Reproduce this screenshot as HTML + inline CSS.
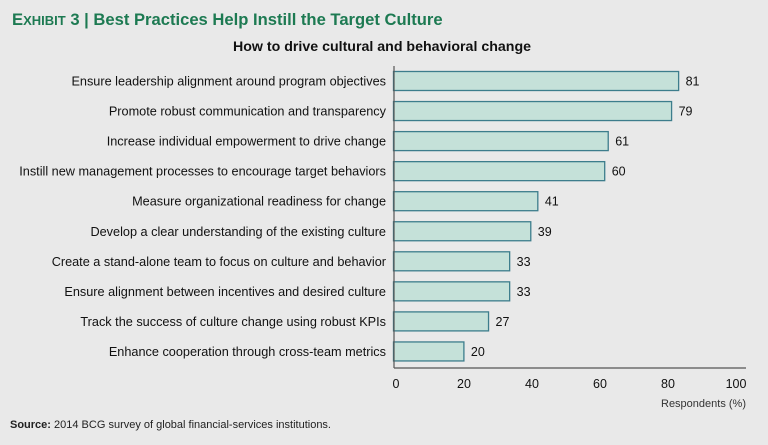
<!DOCTYPE html>
<html><head><meta charset="utf-8"><style>
body{margin:0;background:#e9e9e9;width:768px;height:440px;overflow:hidden;font-family:"Liberation Sans",sans-serif}
</style></head><body>
<svg width="768" height="440" xmlns="http://www.w3.org/2000/svg" font-family="Liberation Sans, sans-serif">
<rect width="768" height="440" fill="#e9e9e9"/>
<text x="12" y="25" fill="#1d7a52" font-weight="bold" font-size="16.6">E<tspan font-size="13">XHIBIT</tspan> 3 | Best Practices Help Instill the Target Culture</text>
<text x="382" y="51" fill="#111" font-weight="bold" font-size="14.2" text-anchor="middle">How to drive cultural and behavioral change</text>
<g id="bars"></g>
<line x1="394" y1="66" x2="394" y2="368" stroke="#555" stroke-width="1.2"/>
<line x1="394" y1="368" x2="746" y2="368" stroke="#555" stroke-width="1.2"/>
<g id="ticks"></g>
<text x="746" y="407" text-anchor="end" font-size="11" fill="#333">Respondents (%)</text>
<text x="10" y="428" font-size="11" fill="#222"><tspan font-weight="bold">Source:</tspan> 2014 BCG survey of global financial-services institutions.</text>
</svg>
<script>
const categories=["Ensure leadership alignment around program objectives","Promote robust communication and transparency","Increase individual empowerment to drive change","Instill new management processes to encourage target behaviors","Measure organizational readiness for change","Develop a clear understanding of the existing culture","Create a stand-alone team to focus on culture and behavior","Ensure alignment between incentives and desired culture","Track the success of culture change using robust KPIs","Enhance cooperation through cross-team metrics"];
const values=[81,79,61,60,41,39,33,33,27,20];
const ticks=[0,20,40,60,80,100];
const NS="http://www.w3.org/2000/svg";
function x(v){return 393.5+v*3.52;}
function tx(v){return 396+v*3.4;}
function y(i){return 71.5+i*30.05;}
const bh=19;
const gb=document.getElementById('bars');
categories.forEach((c,i)=>{
  const r=document.createElementNS(NS,'rect');
  r.setAttribute('x',x(0));r.setAttribute('y',y(i));r.setAttribute('width',x(values[i])-x(0));r.setAttribute('height',bh);
  r.setAttribute('fill','#c5e1d9');r.setAttribute('stroke','#3d7d8c');r.setAttribute('stroke-width','1.3');
  
  
  gb.appendChild(r);
  const l=document.createElementNS(NS,'text');
  l.setAttribute('x',386);l.setAttribute('y',y(i)+bh/2+4.5);l.setAttribute('text-anchor','end');l.setAttribute('font-size','12.7');l.setAttribute('fill','#111');
  l.textContent=c;
  
  
  gb.appendChild(l);
  const v=document.createElementNS(NS,'text');
  v.setAttribute('x',x(values[i])+7);v.setAttribute('y',y(i)+bh/2+4.5);v.setAttribute('font-size','12.5');v.setAttribute('fill','#111');
  v.textContent=values[i];
  
  
  gb.appendChild(v);
});
const gt=document.getElementById('ticks');
ticks.forEach(t=>{
  const l=document.createElementNS(NS,'text');
  l.setAttribute('x',tx(t));l.setAttribute('y',388);l.setAttribute('text-anchor','middle');l.setAttribute('font-size','12.5');l.setAttribute('fill','#111');
  l.textContent=t;
  
  
  gt.appendChild(l);
});
</script>
</body></html>
